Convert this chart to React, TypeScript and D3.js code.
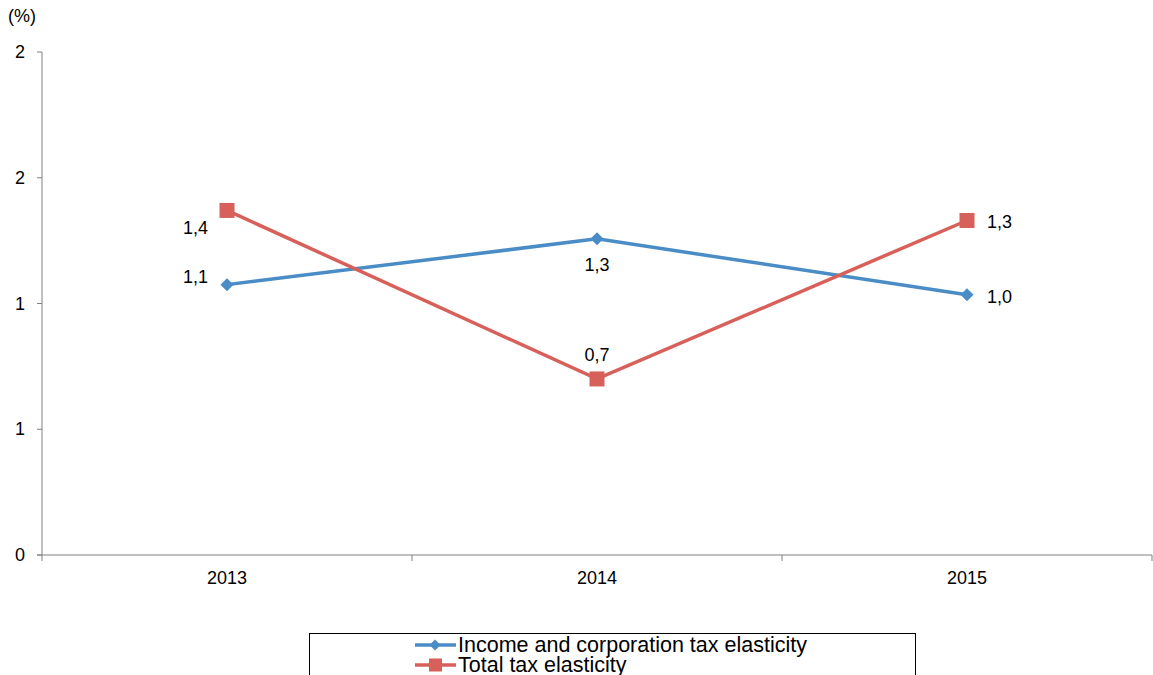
import React from "react";
import * as d3 from "d3";

const years = ["2013", "2014", "2015"];
const incomeElasticity = [1.075, 1.257, 1.035];
const totalElasticity = [1.37, 0.7, 1.33];
const incomeLabels = ["1,1", "1,3", "1,0"];
const totalLabels = ["1,4", "0,7", "1,3"];
const yTicks = [0, 0.5, 1, 1.5, 2];
const yTickLabels = ["0", "1", "1", "2", "2"];
const seriesNames = ["Income and corporation tax elasticity", "Total tax elasticity"];

const W = 1153, H = 675;
const BLUE = "#4A8CC6";
const RED = "#D8605A";
const FONT = "Liberation Sans, Arial, sans-serif";
const FS = 18;

const diamond = (r: number) => `M0,${-r}L${r},0L0,${r}L${-r},0Z`;

export default function App() {
  const left = 42, right = 1152, top = 52, bottom = 555;
  const x = d3.scaleBand().domain(years).range([left, right]).padding(0);
  const y = d3.scaleLinear().domain([0, 2]).range([bottom, top]);
  const cx = (i: number) => (x(years[i]) as number) + x.bandwidth() / 2;
  const line = d3.line<number>().x((_, i) => cx(i)).y((d) => y(d));

  // label placement: dx, dy, anchor
  const incPlace: [number, number, string][] = [[-19, -2, "end"], [0, 32, "middle"], [20, 8, "start"]];
  const totPlace: [number, number, string][] = [[-19, 24, "end"], [0, -18, "middle"], [20, 7, "start"]];

  const boundaries = [...years.map((yr) => x(yr) as number), right];

  return (
    <svg width={W} height={H} style={{ position: "absolute", left: 0, top: 0, display: "block" }} fontFamily={FONT}>
      <rect width={W} height={H} fill="#fff" />
      <text x={8} y={22} fontSize={FS} fill="#000">(%)</text>
      {/* y axis */}
      <line x1={left} x2={left} y1={top} y2={bottom} stroke="#808080" strokeWidth={1} />
      {yTicks.map((t, i) => (
        <g key={i}>
          <line x1={left - 5} x2={left} y1={y(t)} y2={y(t)} stroke="#808080" />
          <text x={25} y={y(t) + 6} fontSize={FS} textAnchor="end" fill="#000">{yTickLabels[i]}</text>
        </g>
      ))}
      {/* x axis */}
      <line x1={left - 5} x2={right} y1={bottom} y2={bottom} stroke="#808080" />
      {boundaries.map((b, i) => (
        <line key={i} x1={b} x2={b} y1={bottom} y2={bottom + 6} stroke="#808080" />
      ))}
      {years.map((yr, i) => (
        <text key={yr} x={cx(i)} y={bottom + 29} fontSize={FS} textAnchor="middle" fill="#000">{yr}</text>
      ))}
      {/* lines */}
      <path d={line(incomeElasticity) || ""} fill="none" stroke={BLUE} strokeWidth={3.5} />
      <path d={line(totalElasticity) || ""} fill="none" stroke={RED} strokeWidth={3.5} />
      {incomeElasticity.map((v, i) => (
        <path key={i} d={diamond(6.5)} transform={`translate(${cx(i)},${y(v)})`} fill={BLUE} />
      ))}
      {totalElasticity.map((v, i) => (
        <rect key={i} x={cx(i) - 7.5} y={y(v) - 7.5} width={15} height={15} fill={RED} />
      ))}
      {incomeElasticity.map((v, i) => (
        <text key={i} x={cx(i) + incPlace[i][0]} y={y(v) + incPlace[i][1]} fontSize={FS} textAnchor={incPlace[i][2] as any} fill="#000">{incomeLabels[i]}</text>
      ))}
      {totalElasticity.map((v, i) => (
        <text key={i} x={cx(i) + totPlace[i][0]} y={y(v) + totPlace[i][1]} fontSize={FS} textAnchor={totPlace[i][2] as any} fill="#000">{totalLabels[i]}</text>
      ))}
      {/* legend */}
      <rect x={309.5} y={633.5} width={606} height={60} fill="none" stroke="#000" strokeWidth={1} />
      {seriesNames.map((n, i) => {
        const ly = 645 + i * 20;
        return (
          <g key={n}>
            <line x1={415} x2={456} y1={ly} y2={ly} stroke={i === 0 ? BLUE : RED} strokeWidth={3.5} />
            {i === 0 ? (
              <path d={diamond(5.5)} transform={`translate(435,${ly})`} fill={BLUE} />
            ) : (
              <rect x={429} y={ly - 6.5} width={13} height={13} fill={RED} />
            )}
            <text x={458} y={ly + 7} fontSize={21.5} fill="#000">{n}</text>
          </g>
        );
      })}
    </svg>
  );
}
